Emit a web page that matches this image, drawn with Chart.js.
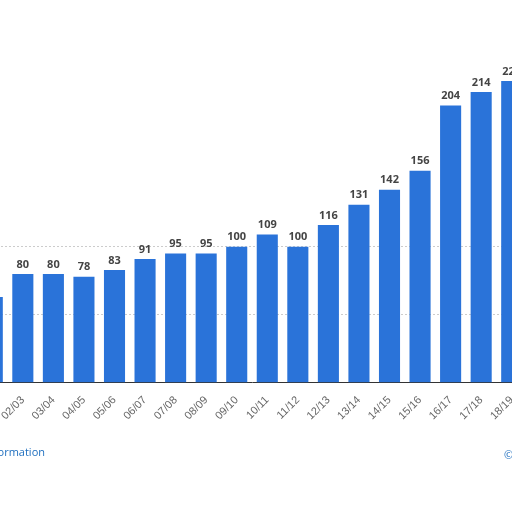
<!DOCTYPE html>
<html><head><meta charset="utf-8">
<script src="https://cdn.jsdelivr.net/npm/chart.js@4/dist/chart.umd.min.js"></script>
<style>
html,body{margin:0;padding:0;width:512px;height:512px;overflow:hidden;background:#fff;position:relative;font-family:"Open Sans",sans-serif}
#wrap{position:absolute;left:-40px;top:0;width:600px;height:512px}
#info{position:absolute;left:-71px;top:444px;font-size:11px;color:#1f6fbf}
#copy{position:absolute;left:504px;top:447px;font-size:11px;color:#1f6fbf}
</style></head><body>
<div id="wrap"><canvas id="c" width="600" height="512"></canvas></div>
<div id="info">Additional Information</div>
<div id="copy">©</div>
<script>
const categories=["01/02","02/03","03/04","04/05","05/06","06/07","07/08","08/09","09/10","10/11","11/12","12/13","13/14","14/15","15/16","16/17","17/18","18/19"];
const values=[63,80,80,78,83,91,95,95,100,109,100,116,131,142,156,204,214,222];
const labelPlugin={id:'lbl',afterDatasetsDraw(chart){const ctx=chart.ctx;const meta=chart.getDatasetMeta(0);ctx.save();ctx.font='bold 11px "Open Sans", sans-serif';ctx.fillStyle='#444';ctx.textAlign='center';ctx.textBaseline='bottom';meta.data.forEach((b,i)=>{ctx.fillText(String(values[i]),b.x,b.y-4);});ctx.restore();}};
new Chart(document.getElementById('c'),{type:'bar',data:{labels:categories,datasets:[{data:values,backgroundColor:'#2a73d9',categoryPercentage:1,barPercentage:0.69}]},
options:{responsive:false,animation:false,devicePixelRatio:1,layout:{padding:{left:17,right:33,top:43,bottom:0}},
plugins:{legend:{display:false},tooltip:{enabled:false}},
scales:{x:{grid:{display:false},border:{color:'#333'},ticks:{color:'#666',font:{size:11},minRotation:45,maxRotation:45},afterFit(a){a.height=129.3;}},
y:{min:0,max:250,ticks:{display:false,stepSize:50},border:{display:false,dash:[2,2]},grid:{color:(c)=>(c.tick&&c.tick.value>0&&c.tick.value<150)?'#ccc':'rgba(0,0,0,0)',drawTicks:false,tickLength:0},afterFit(a){a.width=0;}}}},
plugins:[labelPlugin]});
</script></body></html>
